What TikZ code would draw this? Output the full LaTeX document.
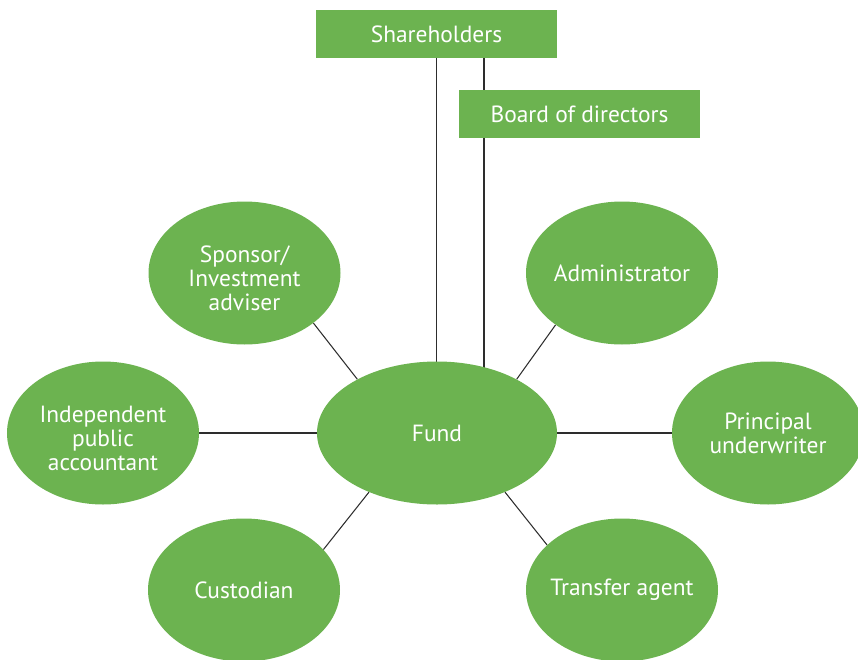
\documentclass[tikz,border=0pt]{standalone}
\usepackage{fontspec}
\setmainfont{PT Sans}
\usetikzlibrary{backgrounds,positioning,shapes.geometric}
\definecolor{fundgreen}{RGB}{108,179,80}
\definecolor{fundline}{RGB}{45,45,45}
\tikzset{
  every picture/.append style={line cap=round,line join=round},
  fund party/.style={ellipse,fill=fundgreen,text=white,inner sep=0pt,
    inner xsep=-0.6cm,minimum width=5.76cm,minimum height=4.29cm,
    align=center,font=\fontsize{20}{20.5}\selectfont},
  fund core/.style={fund party,minimum width=7.2cm},
  fund three/.style={fund party,text height=2.25cm},
  fund box/.style={rectangle,fill=fundgreen,text=white,inner sep=0pt,
    minimum width=7.23cm,minimum height=1.44cm,
    font=\fontsize{20}{20.5}\selectfont},
  fund link/.style={fundline,line width=0.9pt}
}
\begin{document}
\begin{tikzpicture}
\useasboundingbox (0,0) rectangle (25.74,-19.8);
\node[fund box] (share) at (13.095,-1.02) {Shareholders};
\node[fund box] (board) at (17.385,-3.42) {Board of directors};
\node[fund core] (fund) at (13.11,-12.99) {Fund};
\node[fund three] (sponsor) at (7.335,-8.19) {Sponsor/\\Investment\\adviser};
\node[fund party] (admin) at (18.66,-8.19) {Administrator};
\node[fund three] (account) at (3.09,-12.99) {Independent\\public\\accountant};
\node[fund party] (under) at (23.04,-12.99) {Principal\\underwriter};
\node[fund party] (custody) at (7.32,-17.7) {Custodian};
\node[fund party] (transfer) at (18.66,-17.7) {Transfer agent};
\coordinate (bx) at (14.52,0);
\begin{scope}[on background layer]
\draw[fund link] (share.south) -- (share.south |- fund.center);
\draw[fund link] (share.south -| bx) -- (board.north -| bx);
\draw[fund link] (board.south -| bx) -- (bx |- fund.center);
\draw[fund link] (fund.146) -- (sponsor.-36);
\draw[fund link] (fund.34) -- (admin.218);
\draw[fund link] (fund.west) -- (account.east);
\draw[fund link] (fund.east) -- (under.west);
\draw[fund link] (fund.221) -- (custody.27);
\draw[fund link] (fund.-41) -- (transfer.149);
\end{scope}
\end{tikzpicture}
\end{document}
